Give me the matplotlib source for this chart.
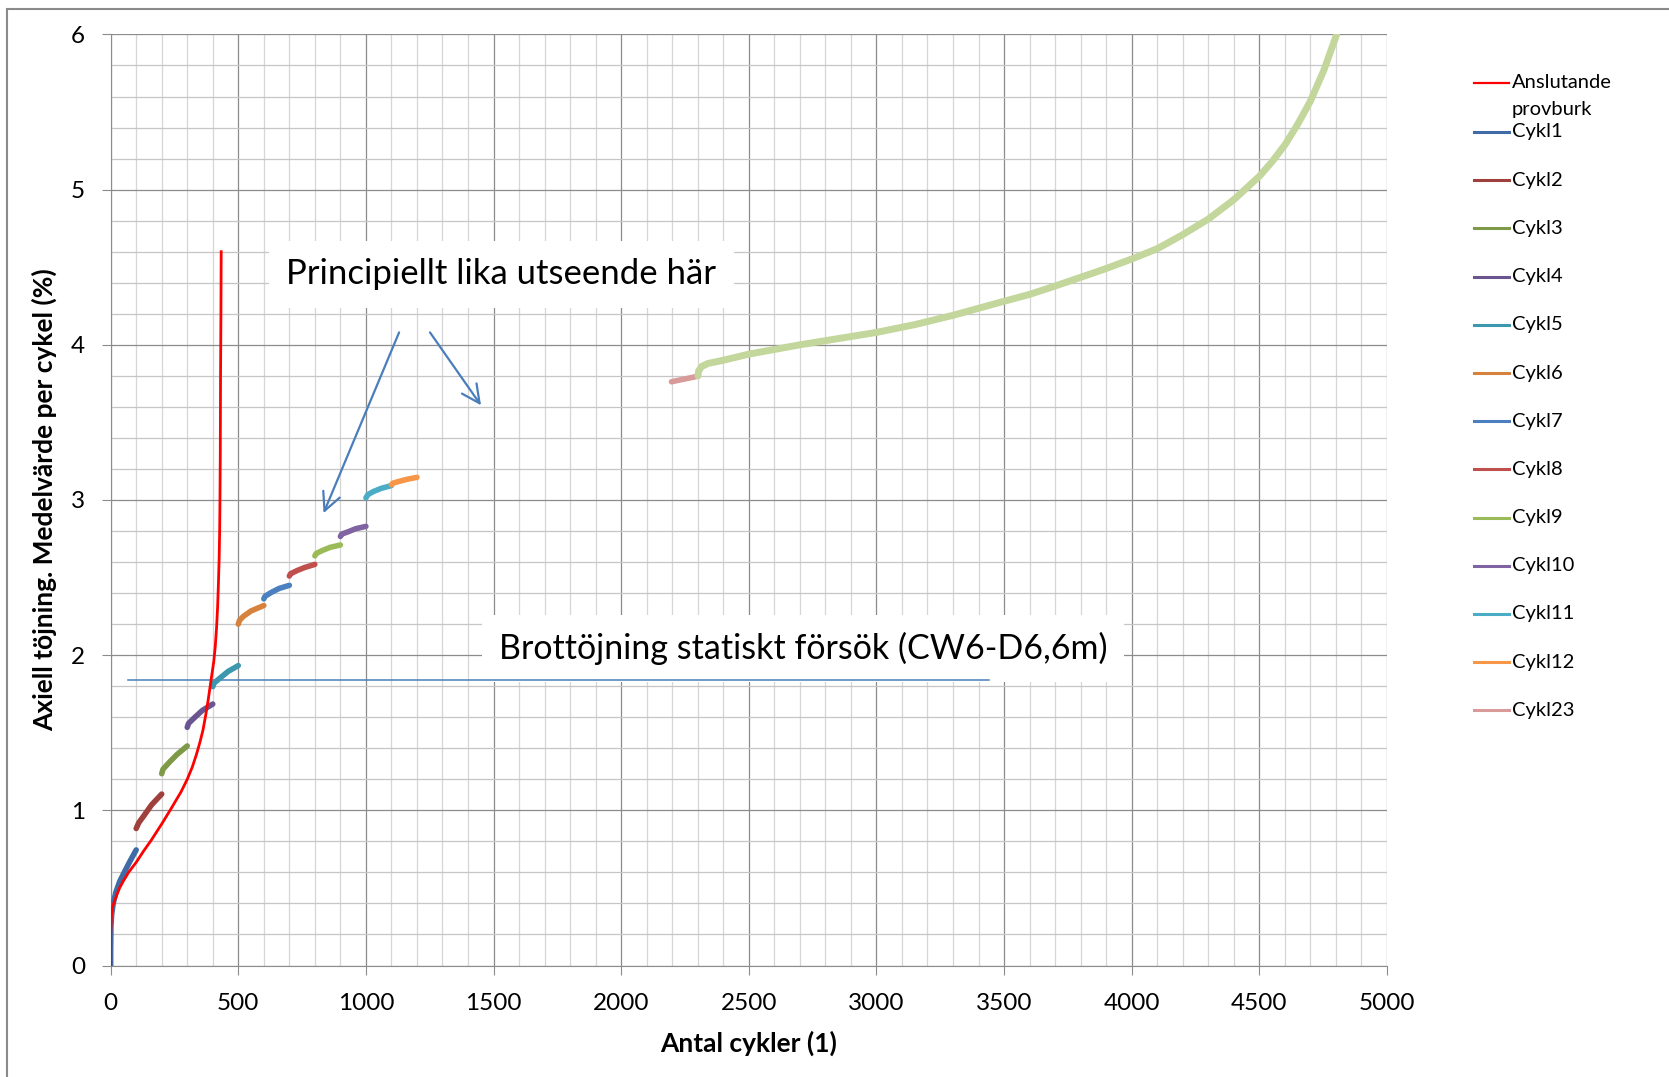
import matplotlib
matplotlib.use("Agg")
import matplotlib.pyplot as plt
from matplotlib.ticker import MultipleLocator
from matplotlib.lines import Line2D
from matplotlib.patches import Rectangle

plt.rcParams['font.family'] = ['Lato', 'DejaVu Sans']

# --- data ---
anslut_x = [0, 0, 3, 8, 16, 23, 35, 50, 70, 100, 130, 160, 203, 240, 276, 300, 320, 336,
            350, 362, 372, 381, 389, 397, 404, 410, 415, 419, 422, 425, 427, 428, 429.5,
            430.5, 432, 433]
anslut_y = [0, 0.2, 0.32, 0.38, 0.42, 0.45, 0.50, 0.545, 0.60, 0.665, 0.74, 0.81, 0.92,
            1.02, 1.12, 1.20, 1.28, 1.36, 1.44, 1.52, 1.61, 1.70, 1.79, 1.88, 1.96, 2.06,
            2.18, 2.31, 2.45, 2.62, 2.80, 2.95, 3.3, 3.8, 4.2, 4.6]

cykl_names = ['Cykl1', 'Cykl2', 'Cykl3', 'Cykl4', 'Cykl5', 'Cykl6', 'Cykl7',
              'Cykl8', 'Cykl9', 'Cykl10', 'Cykl11', 'Cykl12', 'Cykl23']
cykl_x = [
    [0, 0, 1, 4, 10, 20, 35, 50, 75, 100],
    [100, 110, 130, 160, 200],
    [200, 205, 230, 260, 300],
    [300, 305, 330, 360, 400],
    [400, 405, 430, 460, 500],
    [500, 505, 520, 550, 600],
    [600, 605, 630, 660, 700],
    [700, 705, 730, 760, 800],
    [800, 805, 830, 860, 900],
    [900, 905, 930, 960, 1000],
    [1000, 1008, 1030, 1060, 1100],
    [1100, 1105, 1130, 1160, 1200],
    [2197, 2250, 2301],
]
cykl_y = [
    [0, 0.1, 0.25, 0.33, 0.40, 0.47, 0.54, 0.59, 0.67, 0.745],
    [0.883, 0.92, 0.965, 1.035, 1.105],
    [1.236, 1.265, 1.31, 1.36, 1.415],
    [1.535, 1.56, 1.60, 1.645, 1.685],
    [1.797, 1.82, 1.855, 1.895, 1.933],
    [2.20, 2.225, 2.25, 2.285, 2.32],
    [2.363, 2.38, 2.405, 2.43, 2.45],
    [2.51, 2.525, 2.545, 2.565, 2.585],
    [2.64, 2.655, 2.675, 2.695, 2.71],
    [2.765, 2.78, 2.795, 2.815, 2.83],
    [3.014, 3.035, 3.055, 3.075, 3.093],
    [3.098, 3.108, 3.12, 3.133, 3.146],
    [3.762, 3.78, 3.798],
]

# last long series (not in the legend)
sista_x = [2301, 2303, 2315, 2340, 2399, 2500, 2600, 2700, 2850, 3000, 3150, 3300, 3476,
           3600, 3693, 3800, 3897, 4000, 4101, 4200, 4300, 4400, 4500, 4550, 4601, 4650,
           4700, 4753, 4803]
sista_y = [3.80, 3.83, 3.86, 3.88, 3.90, 3.94, 3.97, 4.0, 4.04, 4.08, 4.13, 4.19, 4.27,
           4.325, 4.375, 4.435, 4.49, 4.553, 4.62, 4.71, 4.81, 4.935, 5.086, 5.18,
           5.29, 5.42, 5.57, 5.77, 6.0]

brott_x = [67, 3440]
brott_y = [1.838, 1.838]

# --- styles ---
anslut_farg = '#FF0000'
cykl_farger = ['#3F6CA6', '#A0403D', '#7E9A48', '#6A5590', '#3D97AE', '#D7823C',
               '#4A7FC0', '#C0504D', '#9BBB59', '#8064A2', '#4BACC6', '#F79646', '#D99A9A']
sista_farg = '#C3D69B'
pil_farg = '#4A7EBB'
grid_dark = '#8C8C8C'

fig = plt.figure(figsize=(16.69, 10.77), dpi=100)
fig.patches.append(Rectangle((7 / 1669, -0.1), 1.2, 1.1 - 9 / 1077, transform=fig.transFigure,
                             fill=False, edgecolor='#8A8A8A', linewidth=1.5))

ax = fig.add_axes([0.0663, 0.1035, 0.7647, 0.8645])
ax.set_xlim(0, 5000)
ax.set_ylim(0, 6)
ax.xaxis.set_major_locator(MultipleLocator(500))
ax.xaxis.set_minor_locator(MultipleLocator(100))
ax.yaxis.set_major_locator(MultipleLocator(1))
ax.yaxis.set_minor_locator(MultipleLocator(0.2))
ax.grid(which='major', color=grid_dark, linewidth=0.9)
ax.xaxis.grid(which='minor', color='#D6D6D6', linewidth=0.9)
ax.yaxis.grid(which='minor', color='#C6C6C6', linewidth=0.9)
ax.set_axisbelow(True)
for s in ['top', 'right']:
    ax.spines[s].set_visible(False)
for s in ['left', 'bottom']:
    ax.spines[s].set_color(grid_dark)
ax.tick_params(which='major', direction='out', length=6.5, color=grid_dark,
               labelsize=17.5)
ax.tick_params(axis='x', pad=13)
ax.tick_params(axis='y', pad=12)
ax.tick_params(which='minor', length=0)

ax.plot(anslut_x, anslut_y, color=anslut_farg, lw=2.0, zorder=5)
for xs, ys, c in zip(cykl_x, cykl_y, cykl_farger):
    ax.plot(xs, ys, color=c, lw=4.0, solid_capstyle='round', zorder=4)
ax.plot(sista_x, sista_y, color=sista_farg, lw=5.0, solid_capstyle='round', zorder=4)
ax.plot(brott_x, brott_y, color=pil_farg, lw=1.1, zorder=3.5)

box = dict(boxstyle='square,pad=0.5', facecolor='white', edgecolor='none')
ax.text(1530, 4.455, 'Principiellt lika utseende här', fontsize=25, ha='center',
        va='center', bbox=box, zorder=3)
ax.text(2713, 2.045, 'Brottöjning statiskt försök (CW6-D6,6m)', fontsize=24.5,
        ha='center', va='center', bbox=box, zorder=3)

pil = dict(arrowstyle='->,head_length=0.65,head_width=0.32', color=pil_farg, lw=1.6,
           mutation_scale=20, shrinkA=0, shrinkB=0)
ax.annotate('', xy=(834, 2.915), xytext=(1130, 4.08), arrowprops=pil, zorder=6)
ax.annotate('', xy=(1451, 3.61), xytext=(1251, 4.08), arrowprops=pil, zorder=6)

ax.set_xlabel('Antal cykler (1)', fontsize=19, fontweight='bold', labelpad=12)
fig.text(44 / 1669, 1 - 500 / 1077, 'Axiell töjning. Medelvärde per cykel (%)',
         rotation=90, fontsize=19, fontweight='bold', ha='center', va='center')

# legend, Excel style
lx0, lx1, tx = 1474 / 1669, 1509 / 1669, 1512 / 1669
def fy(p):
    return 1 - p / 1077
fig.add_artist(Line2D([lx0, lx1], [fy(83), fy(83)], color=anslut_farg, lw=1.6))
fig.text(tx, fy(83), 'Anslutande', fontsize=14.5, va='center')
fig.text(tx, fy(110), 'provburk', fontsize=14.5, va='center')
for i, (namn, c) in enumerate(zip(cykl_names, cykl_farger)):
    y = fy(132 + i * 48.2)
    fig.add_artist(Line2D([lx0, lx1], [y, y], color=c, lw=2.2))
    fig.text(tx, y, namn, fontsize=14.5, va='center')

fig.savefig('out.png', dpi=100)
